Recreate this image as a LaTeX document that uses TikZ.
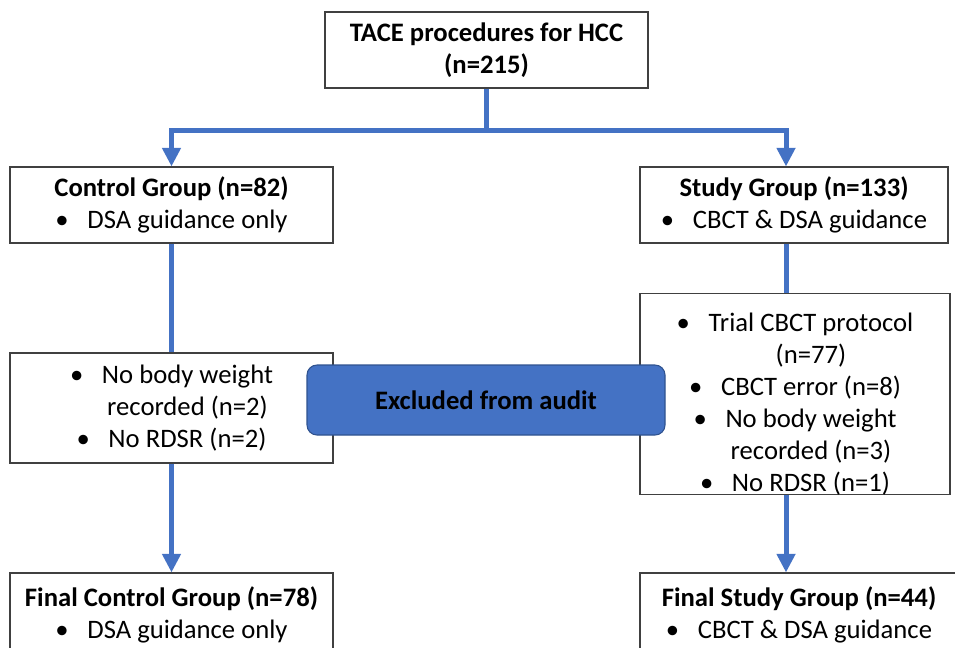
\documentclass[tikz,border=0pt]{standalone}
\usepackage{fontspec}
\setmainfont{Carlito}
\usepackage{tikz}
\usetikzlibrary{arrows.meta}
\definecolor{linkblue}{HTML}{4472C4}
\definecolor{edgeblue}{HTML}{2F528F}
\definecolor{boxgray}{HTML}{404040}
\newcommand{\itm}{\textbullet\hspace{0.7em}}
\newcommand{\hang}{\hphantom{\textbullet\hspace{0.7em}}}

\begin{document}
\begin{tikzpicture}[x=0.75pt, y=-0.75pt,
  box/.style={draw=boxgray, line width=0.8pt, fill=white, align=center, inner sep=0pt,
    font=\fontsize{20}{24}\selectfont},
  flow/.style={draw=linkblue, line width=3.75pt},
  arrowed/.style={-{Triangle[width=13.5pt, length=14pt]}}]
  \useasboundingbox (0, 0) rectangle (955, 647);
  \clip (0, 0) rectangle (955, 647);
  % boxes
  \node[box, minimum width=242.25pt, minimum height=57pt] (tace) at (486.5, 50)
    {\textbf{TACE procedures for HCC}\\\textbf{(n=215)}};
  \node[box, minimum width=242.25pt, minimum height=57pt] (control) at (171.5, 205)
    {\textbf{Control Group (n=82)}\\\itm DSA guidance only};
  \node[box, minimum width=231pt, minimum height=57pt] (study) at (794, 205)
    {\textbf{Study Group (n=133)}\\\itm CBCT \& DSA guidance};
  \node[box, minimum width=242.25pt, minimum height=82.5pt] (leftmid) at (171.5, 408)
    {\itm No body weight\\\hang recorded (n=2)\\\itm No RDSR (n=2)};
  \node[box, minimum width=232.5pt, minimum height=148.5pt] (rightmid) at (795, 394)
    {\rule{0pt}{28.5pt}\itm Trial CBCT protocol\\\hang (n=77)\\\itm CBCT error (n=8)\\\itm No body weight\\\hang recorded (n=3)\\\itm No RDSR (n=1)};
  \node[box, minimum width=242.25pt, minimum height=63pt] (finalctl) at (171.5, 615)
    {\textbf{Final Control Group (n=78)}\\\itm DSA guidance only};
  \node[box, minimum width=238.5pt, minimum height=63pt] (finalstd) at (799, 615)
    {\textbf{Final Study Group (n=44)}\\\itm CBCT \& DSA guidance};
  % connectors
  \coordinate (split) at (486.5, 130);
  \coordinate (rcol) at (786, 0);
  \draw[flow] (tace.south) -- (split);
  \draw[flow, arrowed] (split) -| (control.north);
  \draw[flow, arrowed] (split) -| (rcol |- study.north);
  \draw[flow] (control) -- (leftmid);
  \draw[flow] (rcol |- study.south) -- (rcol |- rightmid.north);
  \draw[flow, arrowed] (leftmid) -- (finalctl);
  \draw[flow, arrowed] (rcol |- rightmid.south) -- (rcol |- finalstd.north);
  \node[box, draw=edgeblue, fill=linkblue, rounded corners=7.5pt,
    minimum width=268.5pt, minimum height=52.5pt] (excl) at (486, 400)
    {\textbf{Excluded from audit}};
\end{tikzpicture}
\end{document}
